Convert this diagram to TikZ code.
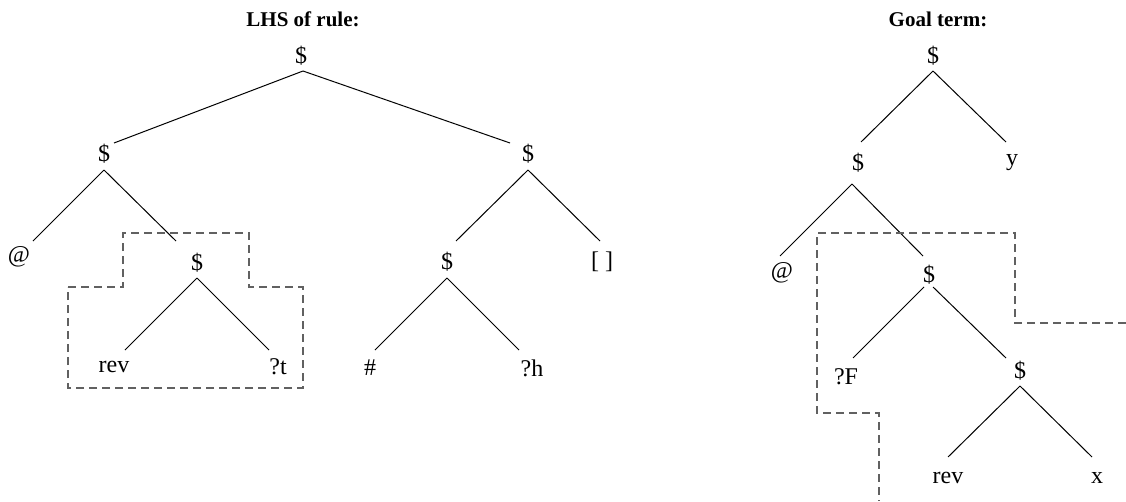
\documentclass[tikz,border=0pt]{standalone}
\usepackage{fontspec}
\setmainfont{Liberation Serif}
\begin{document}
\begin{tikzpicture}[x=1pt,y=-1pt,
  lbl/.style={inner sep=0pt,font=\fontsize{24}{24}\selectfont},
  ttl/.style={inner sep=0pt,font=\fontsize{21}{21}\selectfont\bfseries},
  edge/.style={line width=1pt,black},
  box/.style={line width=1.4pt,draw=black!62,dash pattern=on 8pt off 5pt}]
\useasboundingbox (0,0) rectangle (1126,501);
% ---------- left tree ----------
\node[ttl] (t1) at (303,19) {LHS of rule:};
\node[lbl] (a) at (301,56) {\$};
\node[lbl] (b) at (104,154) {\$};
\node[lbl] (c) at (528,154) {\$};
\node[lbl] (d) at (19,257) {@};
\node[lbl] (e) at (197,263) {\$};
\node[lbl] (f) at (447,262) {\$};
\node[lbl] (g) at (602,262) {[ ]};
\node[lbl] (h) at (114,367) {rev};
\node[lbl] (i) at (278,367) {?t};
\node[lbl] (j) at (370,368) {\#};
\node[lbl] (k) at (532,368) {?h};
\draw[edge] ([shift={(2,15)}]a.center) -- ([shift={(10,-11)}]b.center);
\draw[edge] ([shift={(2,15)}]a.center) -- ([shift={(-18,-11)}]c.center);
\draw[edge] ([shift={(0,16)}]b.center) -- ([shift={(14,-16)}]d.center);
\draw[edge] ([shift={(0,16)}]b.center) -- ([shift={(-21,-22)}]e.center);
\draw[edge] ([shift={(0,16)}]c.center) -- ([shift={(9,-21)}]f.center);
\draw[edge] ([shift={(0,16)}]c.center) -- ([shift={(-2,-21)}]g.center);
\draw[edge] ([shift={(0,15)}]e.center) -- ([shift={(11,-17)}]h.center);
\draw[edge] ([shift={(0,15)}]e.center) -- ([shift={(-9,-17)}]i.center);
\draw[edge] ([shift={(0,16)}]f.center) -- ([shift={(5,-18)}]j.center);
\draw[edge] ([shift={(0,16)}]f.center) -- ([shift={(-13,-18)}]k.center);
\draw[box] (68,287) -- (123,287) -- (123,233) -- (249,233) -- (249,287)
  -- (303,287) -- (303,388) -- (68,388) -- cycle;
% ---------- right tree ----------
\node[ttl] (t2) at (938,19) {Goal term:};
\node[lbl] (A) at (933,56) {\$};
\node[lbl] (B) at (858,163) {\$};
\node[lbl] (C) at (1012,163) {y};
\node[lbl] (D) at (782,273) {@};
\node[lbl] (E) at (929,275) {\$};
\node[lbl] (F) at (846,377) {?F};
\node[lbl] (G) at (1020,371) {\$};
\node[lbl] (H) at (948,478) {rev};
\node[lbl] (I) at (1097,478) {x};
\draw[edge] ([shift={(0,15)}]A.center) -- ([shift={(3,-21)}]B.center);
\draw[edge] ([shift={(0,15)}]A.center) -- ([shift={(-6,-21)}]C.center);
\draw[edge] ([shift={(-6,21)}]B.center) -- ([shift={(-2,-17)}]D.center);
\draw[edge] ([shift={(-6,21)}]B.center) -- ([shift={(-6,-19)}]E.center);
\draw[edge] ([shift={(-5,12)}]E.center) -- ([shift={(7,-19)}]F.center);
\draw[edge] ([shift={(4,12)}]E.center) -- ([shift={(-14,-13)}]G.center);
\draw[edge] ([shift={(0,15)}]G.center) -- ([shift={(0,-21)}]H.center);
\draw[edge] ([shift={(0,15)}]G.center) -- ([shift={(-5,-21)}]I.center);
\draw[box] (1126,323) -- (1015,323) -- (1015,233) -- (817,233) -- (817,413)
  -- (879,413) -- (879,501);
\end{tikzpicture}
\end{document}
